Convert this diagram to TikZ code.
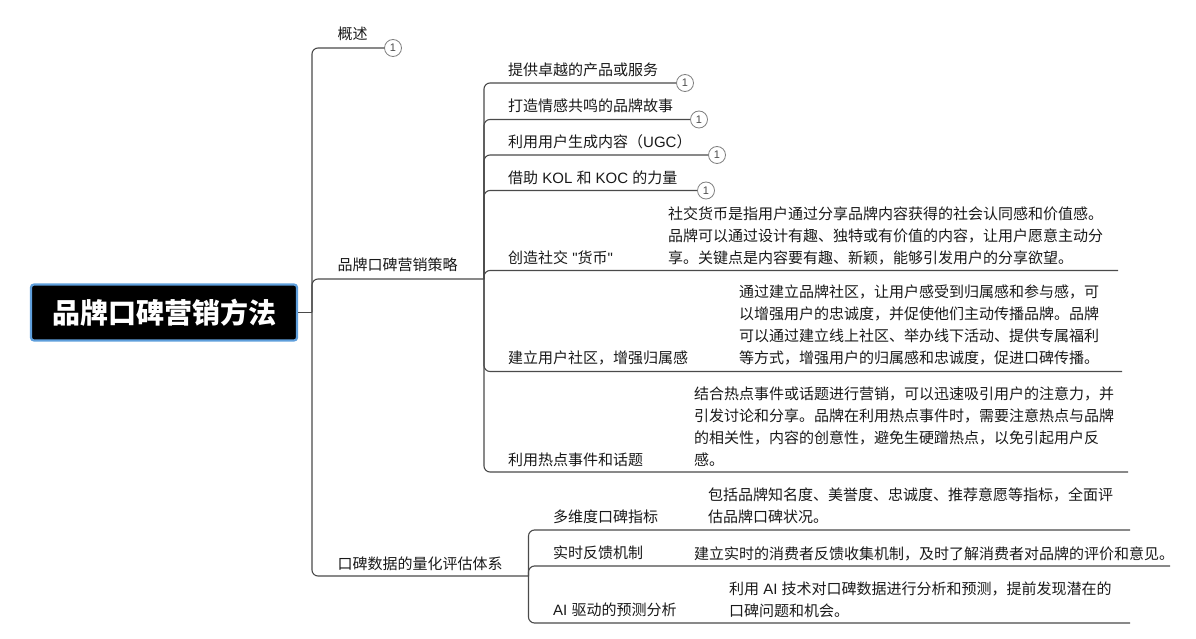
\documentclass[tikz,border=0pt]{standalone}
\usepackage{fontspec}
\setmainfont{Noto Sans CJK SC}
\newfontfamily\latfont{Liberation Sans}
\newcommand{\lat}[1]{{\latfont #1}}
\usepackage{xcolor}
\usetikzlibrary{positioning}
\definecolor{linegray}{HTML}{4A4A4A}
\definecolor{rootblue}{HTML}{5F9FDC}

\begin{document}
\begin{tikzpicture}[
    x=1pt, y=-1pt,
    font=\fontsize{15}{22}\selectfont,
    link/.style={draw=linegray, line width=1.1pt, rounded corners=6pt},
    rootbox/.style={rectangle, rounded corners=3pt, fill=black, draw=rootblue, line width=2.2pt,
    minimum width=266pt, minimum height=56pt, text=white, font=\fontsize{28}{32}\bfseries\selectfont},
    topic/.style={anchor=base west, inner sep=0pt, text=black!90},
    desc/.style={anchor=base west, inner sep=0pt, align=left, text=black!90},
    notemark/.style={circle, draw=gray, line width=0.8pt, fill=white, minimum size=17pt, inner sep=0pt,
    text=black!70, font=\fontsize{11}{12}\latfont}
    ]
\useasboundingbox (0,0) rectangle (1196,639);

\node[rootbox] (root) at (164,312.5) {品牌口碑营销方法};

%Upper level
\coordinate (topjunc) at (312,312.5);
\coordinate (stratjunc) at (484,279);
\coordinate (evaljunc) at (528.5,576);
\node[topic] (overview) at (337.5,40) {概述};
\node[notemark] (overviewnote) at (393,48) {1};
\node[topic] (strat) at (337.5,270) {品牌口碑营销策略};
\node[topic] (eval) at (337.5,569) {口碑数据的量化评估体系};

%Strategy part
\node[topic] (product) at (508,76) {提供卓越的产品或服务};
\node[notemark] (productnote) at (685,83) {1};
\node[topic] (story) at (508,112) {打造情感共鸣的品牌故事};
\node[notemark] (storynote) at (699,119.5) {1};
\node[topic] (ugc) at (508,148) {利用用户生成内容（\lat{UGC}）};
\node[notemark] (ugcnote) at (717,155) {1};
\node[topic] (kol) at (508,183.5) {借助\lat{ KOL }和\lat{ KOC }的力量};
\node[notemark] (kolnote) at (706,190.5) {1};
\node[topic] (social) at (508,263) {创造社交\lat{ "}货币\lat{"}};
\node[desc] (socialdesc) at (668,263) {社交货币是指用户通过分享品牌内容获得的社会认同感和价值感。\\品牌可以通过设计有趣、独特或有价值的内容，让用户愿意主动分\\享。关键点是内容要有趣、新颖，能够引发用户的分享欲望。};
\coordinate (socialend) at (1118,270.5);
\node[topic] (community) at (508,363.5) {建立用户社区，增强归属感};
\node[desc] (communitydesc) at (739,363.5) {通过建立品牌社区，让用户感受到归属感和参与感，可\\以增强用户的忠诚度，并促使他们主动传播品牌。品牌\\可以通过建立线上社区、举办线下活动、提供专属福利\\等方式，增强用户的归属感和忠诚度，促进口碑传播。};
\coordinate (communityend) at (1122,371.5);
\node[topic] (hot) at (508,465) {利用热点事件和话题};
\node[desc] (hotdesc) at (694,465) {结合热点事件或话题进行营销，可以迅速吸引用户的注意力，并\\引发讨论和分享。品牌在利用热点事件时，需要注意热点与品牌\\的相关性，内容的创意性，避免生硬蹭热点，以免引起用户反\\感。};
\coordinate (hotend) at (1128,472);

%Evaluation part
\node[topic] (multi) at (553,522) {多维度口碑指标};
\node[desc] (multidesc) at (708,522) {包括品牌知名度、美誉度、忠诚度、推荐意愿等指标，全面评\\估品牌口碑状况。};
\coordinate (multiend) at (1130,530);
\node[topic] (feedback) at (553,558) {实时反馈机制};
\node[desc] (feedbackdesc) at (694,559) {建立实时的消费者反馈收集机制，及时了解消费者对品牌的评价和意见。};
\coordinate (feedbackend) at (1170,566);
\node[topic] (predict) at (553,615) {\lat{AI }驱动的预测分析};
\node[desc] (predictdesc) at (729,616) {利用\lat{ AI }技术对口碑数据进行分析和预测，提前发现潜在的\\口碑问题和机会。};
\coordinate (predictend) at (1130,623);

%Connectors
\draw[link] (root.east) -- (topjunc);
\draw[link] (topjunc) |- (overviewnote.west);
\draw[link] (topjunc) |- (stratjunc);
\draw[link] (topjunc) |- (evaljunc);

\draw[link] (stratjunc) |- (productnote.west);
\draw[link] (stratjunc) |- (storynote.west);
\draw[link] (stratjunc) |- (ugcnote.west);
\draw[link] (stratjunc) |- (kolnote.west);
\draw[link] (stratjunc) |- (socialend);
\draw[link] (stratjunc) |- (communityend);
\draw[link] (stratjunc) |- (hotend);

\draw[link] (evaljunc) |- (multiend);
\draw[link] (evaljunc) |- (feedbackend);
\draw[link] (evaljunc) |- (predictend);
\end{tikzpicture}
\end{document}
